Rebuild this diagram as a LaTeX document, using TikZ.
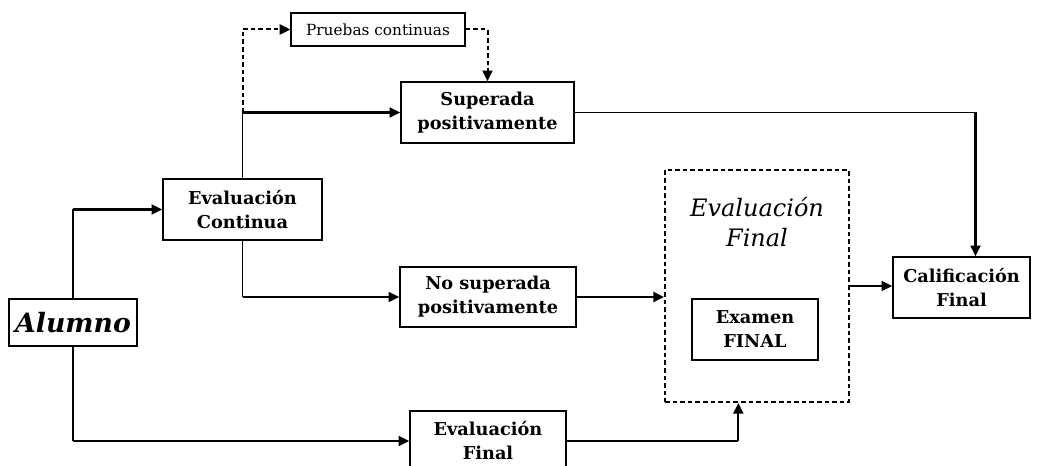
\documentclass[tikz,border=0pt]{standalone}
\usepackage{fontspec}
\setmainfont{DejaVu Serif}
\usetikzlibrary{arrows.meta, positioning, calc}

\begin{document}
\begin{tikzpicture}[
        x=0.75pt, y=-0.75pt,
        box/.style={rectangle, draw=black, fill=white, line width=1.2pt, inner sep=0pt, align=center, font=\fontsize{13.3}{18}\selectfont\bfseries},
        smallbox/.style={rectangle, draw=black, line width=0.9pt, inner sep=0pt, align=center, font=\fontsize{11.5}{13}\selectfont},
        dashbox/.style={rectangle, draw=black, line width=1.5pt, dash pattern=on 3.5pt off 2.2pt, inner sep=0pt},
        link/.style={line width=1pt},
        arrow/.style={-{Triangle[length=8pt, width=7.5pt]}, line width=1.7pt},
        dasharrow/.style={-{Triangle[length=8pt, width=7.5pt]}, line width=1.5pt, dash pattern=on 3.5pt off 2.2pt}
    ]
        \useasboundingbox (0,0) rectangle (1037,466);

        % boxes
        \node[box, minimum width=96pt, minimum height=35.25pt, font=\fontsize{20}{24}\selectfont\bfseries\itshape] (alumno) at (73,322.5) {Alumno};
        \node[box, minimum width=119.25pt, minimum height=45.75pt] (evcont) at (242.5,209.5) {Evaluación\\Continua};
        \node[smallbox, minimum width=130.5pt, minimum height=24.75pt] (pruebas) at (378,29.5) {Pruebas continuas};
        \node[box, minimum width=129.75pt, minimum height=45.75pt] (superada) at (487.5,112.5) {Superada\\positivamente};
        \node[box, minimum width=132pt, minimum height=45pt] (nosup) at (488,297) {No superada\\positivamente};
        \node[box, minimum width=117pt, minimum height=45pt] (evfin) at (488,441) {Evaluación\\Final};
        \node[dashbox, minimum width=138pt, minimum height=174pt] (efinal) at (757,286) {};
        \node[align=center, font=\fontsize{18}{22.5}\selectfont\itshape] (eftitle) at (757,222) {Evaluación\\Final};
        \node[box, minimum width=94.5pt, minimum height=45.75pt] (examen) at (755,329.5) {Examen\\FINAL};
        \node[box, minimum width=102.75pt, minimum height=45.75pt] (calif) at (961.5,287.5) {Calificación\\Final};

        % corners
        \coordinate (c1) at (alumno.north |- evcont.west);
        \coordinate (c2) at (alumno.south |- evfin.west);
        \coordinate (c3) at (evcont.north |- superada.west);
        \coordinate (c4) at (evcont.south |- nosup.west);
        \coordinate (c5) at ([xshift=10.5pt]calif.north |- superada.east);
        \coordinate (c6) at ([xshift=-14pt]efinal.south |- evfin.east);

        % connectors
        \draw[link] (alumno.north) -- (c1);
        \draw[arrow] (c1) -- (evcont.west);
        \draw[link] (alumno.south) -- (c2);
        \draw[arrow] (c2) -- (evfin.west);
        \draw[link] (evcont.north) -- (c3);
        \draw[arrow] (c3) -- (superada.west);
        \draw[dasharrow] (c3) |- (pruebas.west);
        \draw[dasharrow] (pruebas.east) -| (superada.north);
        \draw[link] (evcont.south) -- (c4);
        \draw[arrow] (c4) -- (nosup.west);
        \draw[arrow] (nosup.east) -- (nosup.east -| efinal.west);
        \draw[arrow] (efinal.east) -- (efinal.east -| calif.west);
        \draw[link] (superada.east) -- (c5);
        \draw[arrow] (c5) -- ([xshift=10.5pt]calif.north);
        \draw[link] (evfin.east) -- (c6);
        \draw[arrow] (c6) -- ([xshift=-14pt]efinal.south);

    \end{tikzpicture}
\end{document}
